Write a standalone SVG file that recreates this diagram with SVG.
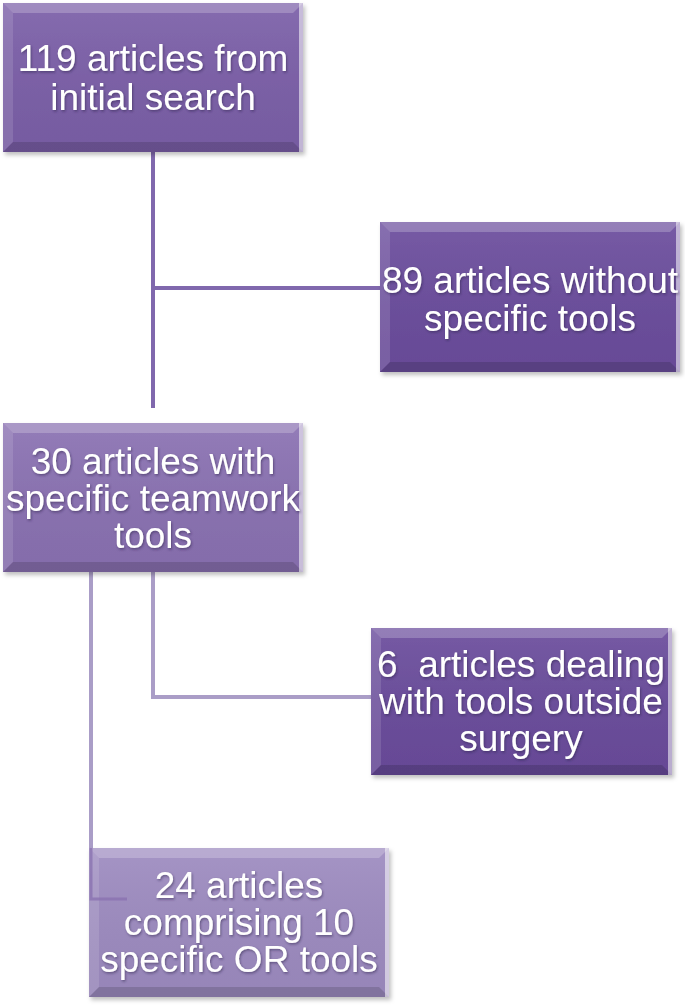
<svg xmlns="http://www.w3.org/2000/svg" width="685" height="1006" viewBox="0 0 685 1006">
  <defs>
    <linearGradient id="gloss" x1="0" y1="0" x2="0" y2="1">
      <stop offset="0" stop-color="#ffffff" stop-opacity="0.08"/>
      <stop offset="1" stop-color="#000000" stop-opacity="0.04"/>
    </linearGradient>
    <filter id="shadow" x="-5%" y="-5%" width="115%" height="115%">
      <feDropShadow dx="2" dy="3" stdDeviation="2" flood-color="#000" flood-opacity="0.25"/>
    </filter>
    <filter id="tshadow" x="-5%" y="-20%" width="110%" height="140%">
      <feDropShadow dx="1" dy="1.5" stdDeviation="1" flood-color="#2a1a45" flood-opacity="0.5"/>
    </filter>
  </defs>
  <style>
    .lbl { font-family: "Liberation Sans", Arial, sans-serif; font-size: 37px; fill: #ffffff; text-anchor: middle; filter: url(#tshadow); }
    .top { fill: #ffffff; fill-opacity: 0.22; }
    .left { fill: #ffffff; fill-opacity: 0.12; }
    .bot { fill: #000000; fill-opacity: 0.14; }
    .right { fill: #ffffff; fill-opacity: 0.55; }
    .c1 { stroke: #8068ad; stroke-width: 4; fill: none; }
    .c2 { stroke: #aa9dc7; stroke-width: 4; fill: none; }
  </style>

  <g id="connectors">
    <path class="c1" d="M153 152 V408"/>
    <path class="c1" d="M153 288 H382"/>
    <path class="c2" d="M153 572 V697 H372"/>
    <path class="c2" d="M91 572 V899"/>
  </g>

  <g id="node1" filter="url(#shadow)">
    <rect x="3" y="3" width="300" height="149" fill="#7b5fa8"/>
    <rect x="3" y="3" width="300" height="149" fill="url(#gloss)"/>
    <polygon class="top" points="3,3 303,3 293,13 13,13"/>
    <polygon class="left" points="3,3 13,13 13,142 3,152"/>
    <polygon class="bot" points="3,152 13,142 293,142 303,152"/>
    <polygon class="right" points="299,3 303,3 303,152 299,152"/>
    <text class="lbl" x="153" y="71">119 articles from</text>
    <text class="lbl" x="153" y="110">initial search</text>
  </g>

  <g id="node2" filter="url(#shadow)">
    <rect x="380" y="222" width="300" height="150" fill="#6b4d9d"/>
    <rect x="380" y="222" width="300" height="150" fill="url(#gloss)"/>
    <polygon class="top" points="380,222 680,222 670,232 390,232"/>
    <polygon class="left" points="380,222 390,232 390,362 380,372"/>
    <polygon class="bot" points="380,372 390,362 670,362 680,372"/>
    <polygon class="right" points="676,222 680,222 680,372 676,372"/>
    <text class="lbl" x="530" y="293">89 articles without</text>
    <text class="lbl" x="530" y="331">specific tools</text>
  </g>

  <g id="node3" filter="url(#shadow)">
    <rect x="3" y="423" width="300" height="149" fill="#8a71b2"/>
    <rect x="3" y="423" width="300" height="149" fill="url(#gloss)"/>
    <polygon class="top" points="3,423 303,423 293,433 13,433"/>
    <polygon class="left" points="3,423 13,433 13,562 3,572"/>
    <polygon class="bot" points="3,572 13,562 293,562 303,572"/>
    <polygon class="right" points="299,423 303,423 303,572 299,572"/>
    <text class="lbl" x="153" y="474">30 articles with</text>
    <text class="lbl" x="153" y="511">specific teamwork</text>
    <text class="lbl" x="153" y="548">tools</text>
  </g>

  <g id="node4" filter="url(#shadow)">
    <rect x="371" y="628" width="301" height="147" fill="#6a4c9c"/>
    <rect x="371" y="628" width="301" height="147" fill="url(#gloss)"/>
    <polygon class="top" points="371,628 672,628 662,638 381,638"/>
    <polygon class="left" points="371,628 381,638 381,765 371,775"/>
    <polygon class="bot" points="371,775 381,765 662,765 672,775"/>
    <polygon class="right" points="668,628 672,628 672,775 668,775"/>
    <text class="lbl" x="521" y="677" xml:space="preserve">6  articles dealing</text>
    <text class="lbl" x="521" y="714">with tools outside</text>
    <text class="lbl" x="521" y="751">surgery</text>
  </g>

  <g id="node5" filter="url(#shadow)">
    <rect x="89" y="848" width="300" height="149" fill="#9d8bc0"/>
    <rect x="89" y="848" width="300" height="149" fill="url(#gloss)"/>
    <polygon class="top" points="89,848 389,848 379,858 99,858"/>
    <polygon class="left" points="89,848 99,858 99,987 89,997"/>
    <polygon class="bot" points="89,997 99,987 379,987 389,997"/>
    <polygon class="right" points="385,848 389,848 389,997 385,997"/>
    <path d="M91 848 V899 H127" stroke="#8a72b0" stroke-width="3" fill="none" opacity="0.8"/>
    <text class="lbl" x="239" y="898">24 articles</text>
    <text class="lbl" x="239" y="935">comprising 10</text>
    <text class="lbl" x="239" y="972">specific OR tools</text>
  </g>
</svg>
